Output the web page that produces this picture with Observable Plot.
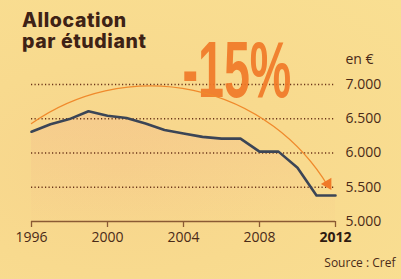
<!DOCTYPE html>
<html><head><meta charset="utf-8">
<script src="https://cdn.jsdelivr.net/npm/d3@7"></script>
<script src="https://cdn.jsdelivr.net/npm/@observablehq/plot@0.6"></script>
<style>
html,body{margin:0;padding:0;}
#wrap{position:relative;width:401px;height:279px;overflow:hidden;
 background: radial-gradient(ellipse at 30% 60%, #f7d48c 0%, #f8da8e 45%, #f9df92 100%);}
.title{position:absolute;left:22px;font-family:Inter,"DejaVu Sans",sans-serif;font-weight:800;
 font-size:19.5px;line-height:19px;height:19px;color:#3e2215;letter-spacing:0.6px;white-space:nowrap;}
#chart{position:absolute;left:0;top:0;}
</style></head>
<body><div id="wrap"><div class="title" style="top:11px">Allocation</div><div class="title" style="top:32px">par étudiant</div><div id="chart"></div></div>
<script>
const years = [1996,1997,1998,1999,2000,2001,2002,2003,2004,2005,2006,2007,2008,2009,2010,2011,2012];
const allocation = [6310,6420,6495,6610,6545,6510,6430,6335,6285,6235,6210,6210,6020,6020,5785,5380,5380];
const xTicks = [1996,2000,2004,2008,2012];
const boldTick = 2012;
const yTicks = [5000,5500,6000,6500,7000];
const yLabels = ["5.000","5.500","6.000","6.500","7.000"];
const gridValues = [5500,6000,6500,7000];
const unitLabel = "en €";
const sourceLabel = "Source : Cref";
const arcStart = {x: 1996, y: 6430};
const arcEnd = {x: 2011.6, y: 5520};
const change = {x: 2006.8, y: 7180, text: "-15%"};

const data = years.map((y,i)=>({year:y, value:allocation[i]}));
const brown = "#4a2a18";

const gradient = () => {
  const svgNS = "http://www.w3.org/2000/svg";
  const defs = document.createElementNS(svgNS, "defs");
  defs.innerHTML = `<linearGradient id="fade" x1="0" y1="0" x2="0" y2="1">
    <stop offset="0" stop-color="#ee9e8c" stop-opacity="0.2"/>
    <stop offset="1" stop-color="#f2a880" stop-opacity="0.03"/></linearGradient>`;
  return defs;
};

const chart = Plot.plot({
  width: 401, height: 279,
  marginLeft: 31, marginRight: 66, marginTop: 84, marginBottom: 58,
  x: {domain: [1996, 2012], axis: null},
  y: {domain: [5000, 7000], axis: null},
  style: {background: "transparent", fontFamily: "'Open Sans', sans-serif", overflow: "visible"},
  marks: [
    gradient,
    Plot.areaY(data, {x: "year", y: "value", y1: 5000, fill: "url(#fade)"}),
    Plot.ruleY(gridValues, {stroke: "#6b3418", strokeWidth: 1.6, strokeDasharray: "1.2,2.3"}),
    Plot.ruleY([5000], {stroke: "#8a5a34", strokeWidth: 1.3}),
    Plot.axisX({ticks: xTicks, tickSize: 6, tickFormat: () => "", stroke: "#8a5a34", strokeWidth: 1.3}),
    Plot.text(xTicks.filter(d => d !== boldTick), {x: d => d, frameAnchor: "bottom", dy: 20, text: d => String(d), fontSize: 14, fill: brown}),
    Plot.text([boldTick], {x: d => d, frameAnchor: "bottom", dy: 20, text: d => String(d), fontSize: 14, fontWeight: "bold", fill: "#2e1a10"}),
    Plot.text(yTicks, {y: d => d, text: (d,i) => yLabels[i], frameAnchor: "right", dx: 10, textAnchor: "start", fontSize: 14, fill: brown}),
    Plot.text([unitLabel], {frameAnchor: "top-right", dx: 10, dy: -30, textAnchor: "start", fontSize: 14, fill: brown}),
    Plot.text([sourceLabel], {frameAnchor: "bottom-right", dx: 60, dy: 45, textAnchor: "end", fontSize: 12, fill: brown}),
    Plot.text([change], {x: "x", y: "y", text: "text", fontSize: 79, fontWeight: "bold", fontFamily: "'Liberation Sans', Arial, sans-serif", fill: "#f07a28", fillOpacity: 0.92}),
    Plot.arrow([{x1: arcStart.x, y1: arcStart.y, x2: arcEnd.x, y2: arcEnd.y}], {x1: "x1", y1: "y1", x2: "x2", y2: "y2", bend: 47, stroke: "#f08a2c", strokeWidth: 1.3, headLength: 0}),
    Plot.dot([arcEnd], {x: "x", y: "y", symbol: "triangle", r: 4.5, fill: "#f07a28", stroke: "none", rotate: 150, dx: 0, dy: -2}),
    Plot.line(data, {x: "year", y: "value", stroke: "#3b4556", strokeWidth: 2.6})
  ]
});
document.getElementById("chart").appendChild(chart);

// condense the big percentage label horizontally, around its own centre
(function(){
  const svgRect = chart.getBoundingClientRect();
  const textEl = Array.from(chart.querySelectorAll("text")).find(t => t.textContent === change.text);
  if (!textEl) return;
  const r = textEl.getBoundingClientRect();
  const cx = r.left + r.width/2 - svgRect.left;
  const g = document.createElementNS("http://www.w3.org/2000/svg", "g");
  textEl.parentNode.insertBefore(g, textEl);
  g.appendChild(textEl);
  const s = 0.59;
  g.setAttribute("transform", `translate(${cx},0) scale(${s},1) translate(${-cx},0)`);
})();
</script></body></html>
